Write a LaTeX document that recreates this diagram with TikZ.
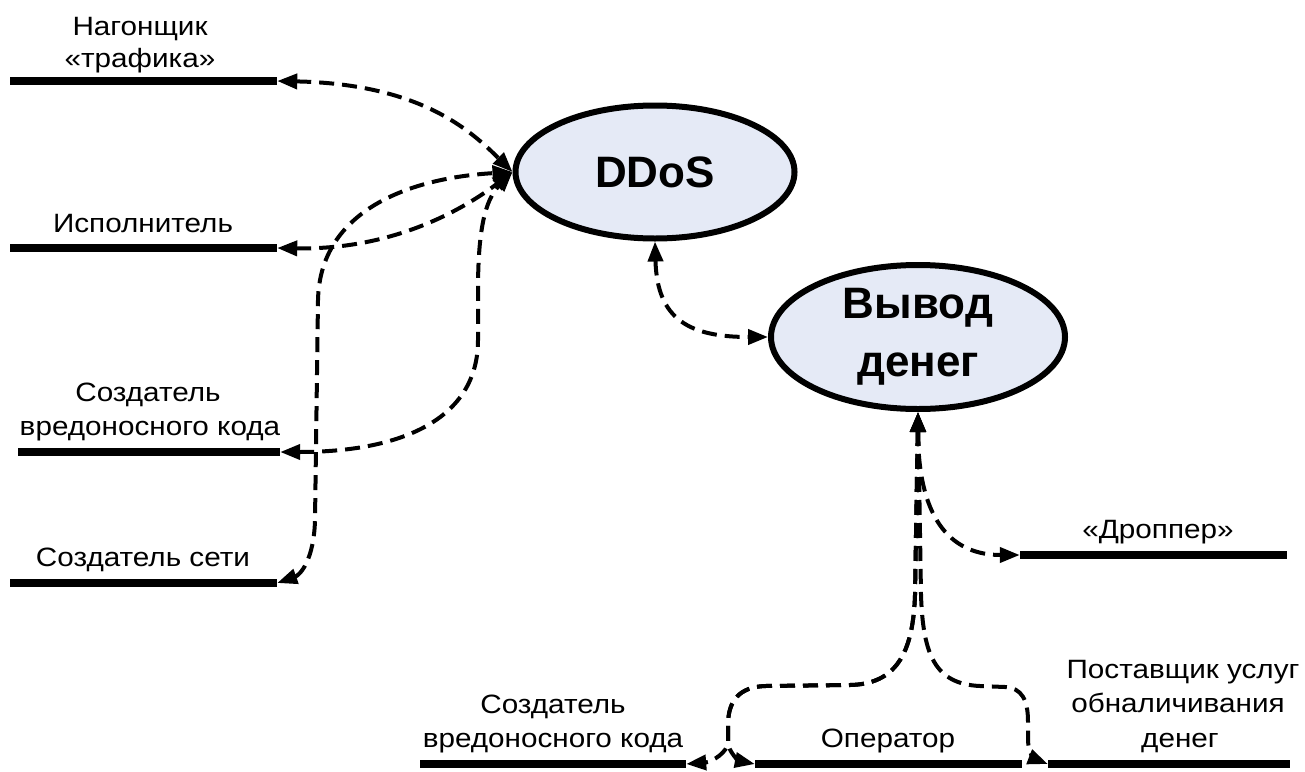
\documentclass[tikz,border=0pt]{standalone}
\usepackage{fontspec}
\setmainfont{Liberation Sans}
\newfontfamily\lblfont{Liberation Sans}[FakeStretch=1.12]
\usetikzlibrary{shapes.geometric,arrows.meta}
\definecolor{ellfill}{RGB}{229,234,246}
\begin{document}
\begin{tikzpicture}[x=1pt,y=-1pt,
  bar/.style={rectangle,fill=black,inner sep=0pt,minimum height=8pt},
  lbl/.style={anchor=base,inner sep=0pt,font=\lblfont\fontsize{26.5}{33}\selectfont},
  ell/.style={ellipse,draw,line width=6pt,fill=ellfill,inner sep=0pt,
    font=\fontsize{44}{58}\selectfont\bfseries,align=center},
  conn/.style={line width=4pt,dash pattern=on 15pt off 8pt,
    {Triangle[length=20pt,width=15pt]}-{Triangle[length=20pt,width=15pt]}},
]
\useasboundingbox[fill=white] (0,0) rectangle (1305,771);

% ellipses
\node[ell,minimum width=279pt,minimum height=133pt] (ddos) at (655,172) {DDoS};
\node[ell,minimum width=294pt,minimum height=144pt,yshift=-3pt] (vyv) at (918,334) {Вывод\\денег};

% bars
\node[bar,minimum width=267pt] (nag) at (143.5,81) {};
\node[bar,minimum width=267pt] (isp) at (143.5,248) {};
\node[bar,minimum width=262pt] (svk) at (149,452) {};
\node[bar,minimum width=267pt] (sset) at (143.5,583) {};
\node[bar,minimum width=267pt] (drop) at (1153.5,555) {};
\node[bar,minimum width=266pt] (svkb) at (553,764) {};
\node[bar,minimum width=267pt] (oper) at (888.5,764) {};
\node[bar,minimum width=242pt] (post) at (1169,764) {};

% labels
\node[lbl] (nagA) at (140,35) {Нагонщик};
\node[lbl] (nagB) at (140,67) {«трафика»};
\node[lbl] (ispA) at (143,232) {Исполнитель};
\node[lbl] (svkA) at (148,401) {Создатель};
\node[lbl] (svkB) at (150,435) {вредоносного кода};
\node[lbl] (ssetA) at (143,566) {Создатель сети};
\node[lbl] (dropA) at (1158,538) {«Дроппер»};
\node[lbl] (svkbA) at (553,713) {Создатель};
\node[lbl] (svkbB) at (553,747) {вредоносного кода};
\node[lbl] (operA) at (888,747) {Оператор};
\node[lbl] (postA) at (1183,678) {Поставщик услуг};
\node[lbl] (postB) at (1178,712) {обналичивания};
\node[lbl] (postC) at (1180,747) {денег};

% connectors to DDoS
\draw[conn] (nag.east) .. controls (420,84) and (470,130) .. (ddos.west);
\draw[conn] (isp.east) .. controls (390,250) and (460,212) .. (ddos.west);
\draw[conn] (svk.east) .. controls (400,452) and (478,420) .. (478,340)
  -- (478,290) .. controls (478,230) and (485,200) .. (ddos.west);
\draw[conn] (sset.east) .. controls (300,575) and (314,560) .. (315,520)
  -- (318,300) .. controls (320,210) and (410,178) .. (ddos.west);
\draw[conn] (ddos.south) .. controls (657,320) and (690,337) .. (vyv.west);

% connectors from Вывод денег
\draw[conn] (vyv.south) .. controls (918,525) and (955,555) .. (drop.west);
\draw[conn] (vyv.south) -- (915,595) .. controls (913,655) and (895,684) .. (850,685)
  -- (765,686) .. controls (740,687) and (728,700) .. (728,725)
  -- (728,742) .. controls (728,752) and (712,762) .. (svkb.east);
\draw[conn] (vyv.south) -- (915,595) .. controls (913,655) and (895,684) .. (850,685)
  -- (765,686) .. controls (740,687) and (728,700) .. (728,725)
  -- (728,742) .. controls (728,752) and (740,761) .. (oper.west);
\draw[conn] (vyv.south) -- (921,595) .. controls (923,655) and (935,684) .. (980,686)
  -- (1005,687) .. controls (1022,688) and (1028,700) .. (1028,722)
  -- (1028,740) .. controls (1028,752) and (1035,759) .. (post.west);
\end{tikzpicture}
\end{document}
